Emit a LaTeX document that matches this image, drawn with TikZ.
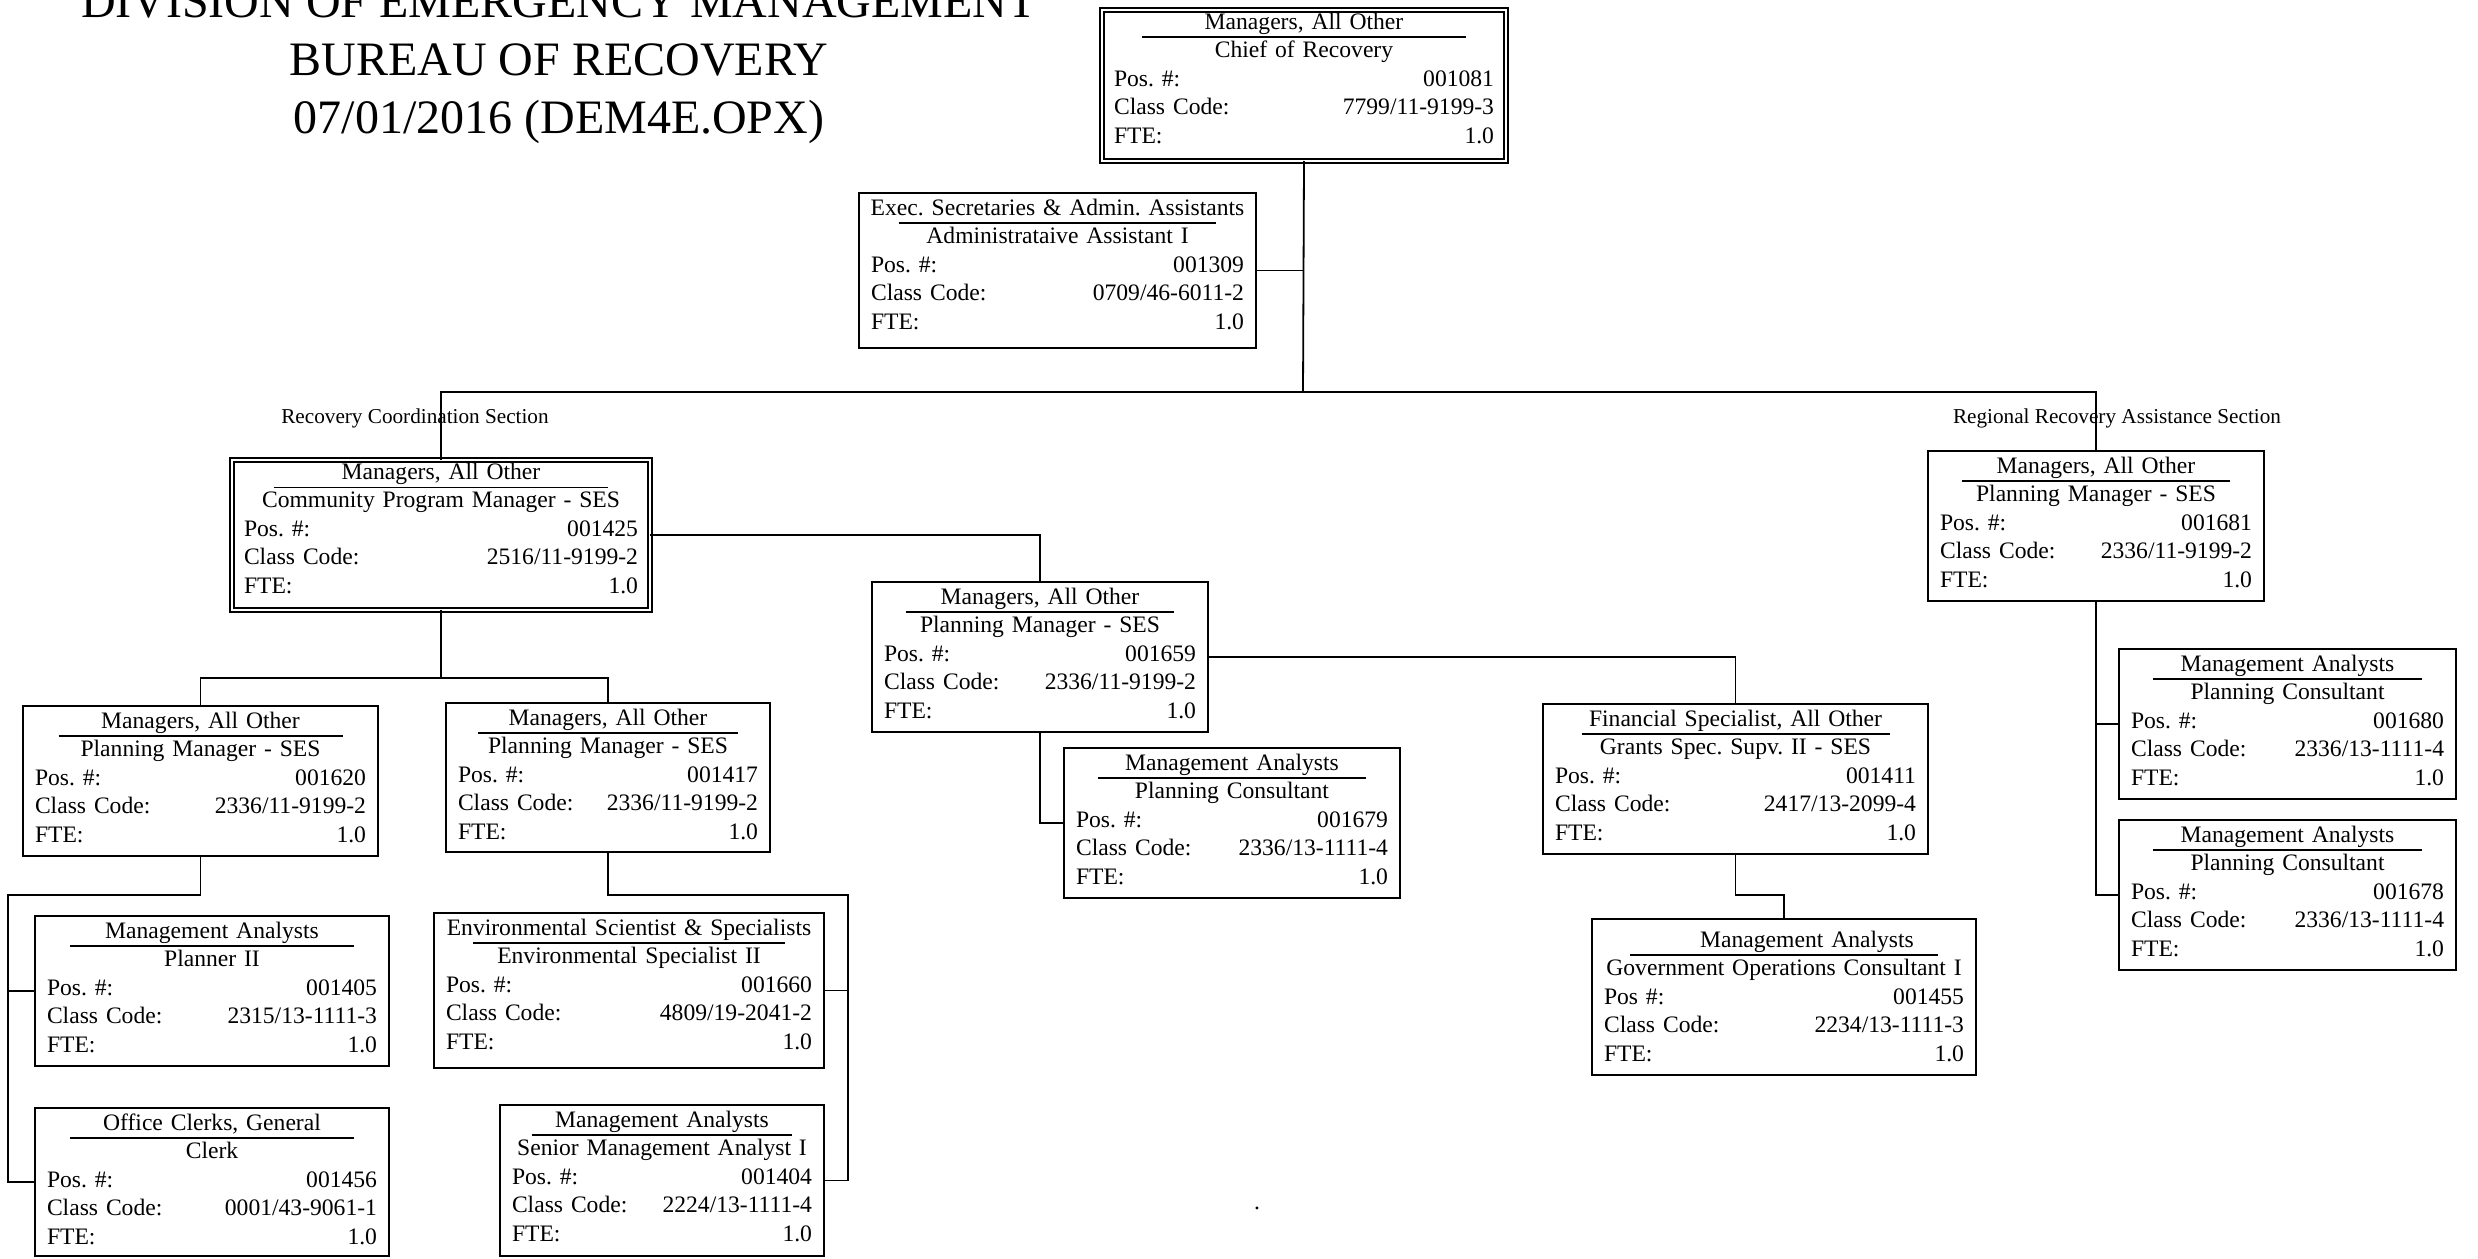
\documentclass[tikz,border=0pt]{standalone}
\usepackage{fontspec}
\setmainfont{Liberation Serif}
\frenchspacing

\newcommand{\cardfont}{\fontsize{11.8}{14.25}\selectfont}
% class title (underlined), working title, then the three data rows
\newcommand{\jobcard}[5][Pos. \#:]{%
\makebox[\linewidth]{#2}\llap{\makebox[\linewidth]{\raisebox{-4.5pt}[0pt][0pt]{\rule{\dimexpr0.8\linewidth+9.6pt\relax}{0.9pt}}}}\\
\makebox[\linewidth]{#3}\\
\makebox[\linewidth]{#1\hfill #4}\\
\makebox[\linewidth]{Class Code:\hfill #5}\\
\makebox[\linewidth]{FTE:\hfill 1.0}}

\tikzset{
  card/.style={draw, line width=1pt, anchor=north west, inner xsep=6pt, inner ysep=0pt, outer sep=0pt, text height=11pt, font=\cardfont},
  dcard/.style={card, double, double distance=1pt, line width=0.8pt},
  link/.style={line width=0.9pt},
  heading/.style={anchor=base, font=\fontsize{24}{29}\selectfont},
  section/.style={anchor=base, font=\fontsize{10.6}{12}\selectfont},
}

\begin{document}
\begin{tikzpicture}[x=0.5pt,y=-0.5pt]
\useasboundingbox (0,0) rectangle (2478,1258);

\node[heading] (title1) at (559,18) {DIVISION OF EMERGENCY MANAGEMENT};
\node[heading] (title2) at (559,75) {BUREAU OF RECOVERY};
\node[heading] (title3) at (559,133) {07/01/2016 (DEM4E.OPX)};

% bureau chief and assistant
\node[dcard, text width=190pt, text height=9.5pt, text depth=66pt] (chief) at (1102,10) {\jobcard{Managers, All Other}{Chief of Recovery}{001081}{7799/11-9199-3}};
\node[card, text width=186.5pt, text depth=66.5pt] (admin) at (859,193) {\jobcard{Exec. Secretaries \& Admin. Assistants}{Administrataive Assistant I}{001309}{0709/46-6011-2}};

% sections
\node[section] (rcs) at (415,423) {Recovery Coordination Section};
\node[section] (rras) at (2117,423) {Regional Recovery Assistance Section};
\node[dcard, text width=197pt, text height=9.7pt, text depth=65.3pt] (cpm) at (232,460) {\jobcard{Managers, All Other}{Community Program Manager - SES}{001425}{2516/11-9199-2}};
\node[card, text width=156pt, text depth=64pt] (rpm681) at (1928,451) {\jobcard{Managers, All Other}{Planning Manager - SES}{001681}{2336/11-9199-2}};

\node[card, text width=156pt, text depth=64pt] (pm659) at (872,582) {\jobcard{Managers, All Other}{Planning Manager - SES}{001659}{2336/11-9199-2}};
\node[card, text width=156pt, text depth=64pt] (pc679) at (1064,748) {\jobcard{Management Analysts}{Planning Consultant}{001679}{2336/13-1111-4}};
\node[card, text width=180.5pt, text depth=64pt] (fs411) at (1543,704) {\jobcard{Financial Specialist, All Other}{Grants Spec. Supv. II - SES}{001411}{2417/13-2099-4}};
\node[card, text width=180pt, text height=14pt, text depth=64pt] (goc455) at (1592,919) {\jobcard[Pos \#:]{\hspace{23pt}Management Analysts}{Government Operations Consultant I}{001455}{2234/13-1111-3}};

\node[card, text width=156.5pt, text depth=64pt] (pc680) at (2119,649) {\jobcard{Management Analysts}{Planning Consultant}{001680}{2336/13-1111-4}};
\node[card, text width=156.5pt, text depth=64pt] (pc678) at (2119,820) {\jobcard{Management Analysts}{Planning Consultant}{001678}{2336/13-1111-4}};

\node[card, text width=165.5pt, text depth=64pt] (pm620) at (23,706) {\jobcard{Managers, All Other}{Planning Manager - SES}{001620}{2336/11-9199-2}};
\node[card, text width=165pt, text depth=64pt] (pa405) at (35,916) {\jobcard{Management Analysts}{Planner II}{001405}{2315/13-1111-3}};
\node[card, text width=165pt, text depth=63pt] (clerk456) at (35,1108) {\jobcard{Office Clerks, General}{Clerk}{001456}{0001/43-9061-1}};

\node[card, text width=150pt, text depth=63.5pt] (pm417) at (446,703) {\jobcard{Managers, All Other}{Planning Manager - SES}{001417}{2336/11-9199-2}};
\node[card, text width=183pt, text depth=66.5pt] (es660) at (434,913) {\jobcard{Environmental Scientist \& Specialists}{Environmental Specialist II}{001660}{4809/19-2041-2}};
\node[card, text width=150pt, text depth=64.5pt] (sma404) at (500,1105) {\jobcard{Management Analysts}{Senior Management Analyst I}{001404}{2224/13-1111-4}};

\node[anchor=base, font=\cardfont] (dot) at (1257,1209) {.};

% reporting lines
\coordinate (bus) at (1303,392);
\draw[link] (chief.south) -- (bus);
\draw[link] (admin.east) -- (admin.east -| chief.south);
\draw[link] (cpm.north) |- (bus -| rpm681.north) -- (rpm681.north);
\draw[link] (cpm.east) -| (pm659.north);
\draw[link] (pm659.east) -| (fs411.north);
\draw[link] (pm659.south) |- (pc679.west);
\draw[link] (fs411.south) -- ++(0,41) -| (goc455.north);
\draw[link] (rpm681.south) |- (pc680.west);
\draw[link] (rpm681.south) |- (pc678.west);
\draw[link] (cpm.south) -- ++(0,68) coordinate (cpmfork);
\draw[link] (pm620.north) |- (cpmfork) -| (pm417.north);
\coordinate (lrail) at (8,895);
\draw[link] (pm620.south) |- (lrail) |- (clerk456.west);
\draw[link] (lrail |- pa405.west) -- (pa405.west);
\coordinate (rrail) at (848,895);
\draw[link] (pm417.south) |- (rrail) |- (sma404.east);
\draw[link] (rrail |- es660.east) -- (es660.east);
\end{tikzpicture}
\end{document}
